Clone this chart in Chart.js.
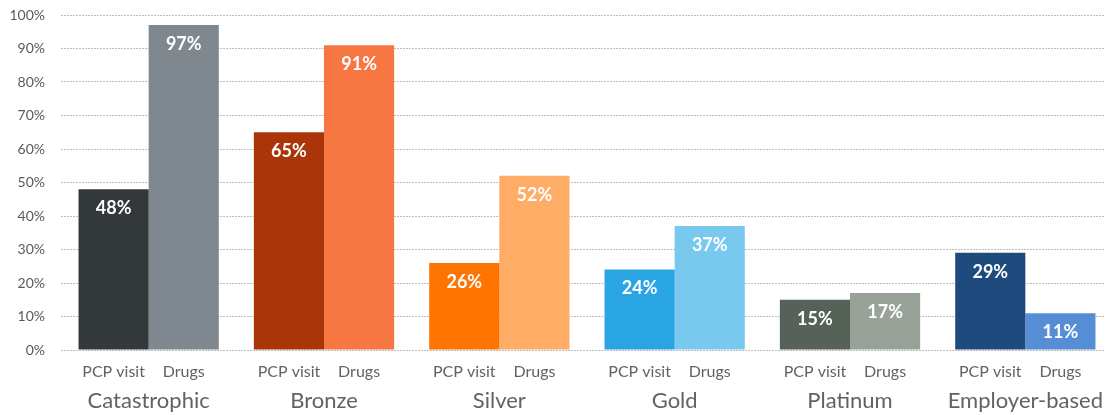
<!DOCTYPE html>
<html>
<head>
<meta charset="utf-8">
<script src="https://cdn.jsdelivr.net/npm/chart.js@4.4.1/dist/chart.umd.min.js"></script>
<style>
  html, body { margin: 0; padding: 0; background: #fff; overflow: hidden; }
  canvas { display: block; }
</style>
</head>
<body>
<canvas id="graphic" width="1113" height="415"></canvas>
<script>
const plans = ['Catastrophic', 'Bronze', 'Silver', 'Gold', 'Platinum', 'Employer-based']
const subLabels = ['PCP visit', 'Drugs']
const pcpVisit = [48, 65, 26, 24, 15, 29]
const drugs = [97, 91, 52, 37, 17, 11]
const pcpColors = ['#33383b', '#a93508', '#ff7300', '#29a5e4', '#566157', '#1f4a7e']
const drugColors = ['#7f888e', '#f77742', '#ffac66', '#79c9ef', '#98a298', '#558ed5']
const yTicks = [0, 10, 20, 30, 40, 50, 60, 70, 80, 90, 100]

const textColor = '#5e6560'

// values inside bars, "PCP visit / Drugs" under each bar, plan names under each group
const barText = {
  id: 'barText',
  afterDatasetsDraw(chart) {
    const ctx = chart.ctx
    const bottom = chart.chartArea.bottom
    const xScale = chart.scales.x
    ctx.save()
    ctx.textAlign = 'center'
    ctx.textBaseline = 'middle'
    chart.data.datasets.forEach((ds, i) => {
      chart.getDatasetMeta(i).data.forEach((bar, j) => {
        ctx.fillStyle = '#ffffff'
        ctx.font = 'bold 18px Lato'
        ctx.fillText(ds.data[j] + '%', bar.x, bar.y + 19)
        ctx.fillStyle = textColor
        ctx.font = '16px Lato'
        ctx.fillText(subLabels[i], bar.x, bottom + 22)
      })
    })
    ctx.fillStyle = textColor
    ctx.font = '22px Lato'
    plans.forEach((p, j) => {
      ctx.fillText(p, xScale.getPixelForValue(j), bottom + 51)
    })
    ctx.restore()
  }
}

const graphRef = document.querySelector('#graphic')

new Chart(graphRef, {
  type: 'bar',
  data: {
    labels: plans,
    datasets: [
      { label: subLabels[0], data: pcpVisit, backgroundColor: pcpColors },
      { label: subLabels[1], data: drugs, backgroundColor: drugColors }
    ]
  },
  options: {
    responsive: false,
    animation: false,
    layout: { padding: { left: 10, right: 0, top: 15, bottom: 65 } },
    datasets: { bar: { categoryPercentage: 0.8, barPercentage: 1 } },
    plugins: {
      legend: { display: false },
      tooltip: { enabled: false }
    },
    scales: {
      x: {
        grid: { display: false, drawTicks: false },
        border: { display: false },
        ticks: { display: false }
      },
      y: {
        min: 0,
        max: 100,
        afterBuildTicks: (axis) => { axis.ticks = yTicks.map(v => ({ value: v })) },
        afterFit: (axis) => {
          axis.width = 51
          axis.paddingTop = 0
          axis.paddingBottom = 0
        },
        grid: {
          color: '#bdbdbd',
          lineWidth: 1,
          drawTicks: false
        },
        border: { display: false, dash: [2, 1] },
        ticks: {
          color: '#5a5a5a',
          font: { family: 'Lato', size: 14 },
          padding: 16,
          callback: v => v + '%'
        }
      }
    }
  },
  plugins: [barText]
})
</script>
</body>
</html>
